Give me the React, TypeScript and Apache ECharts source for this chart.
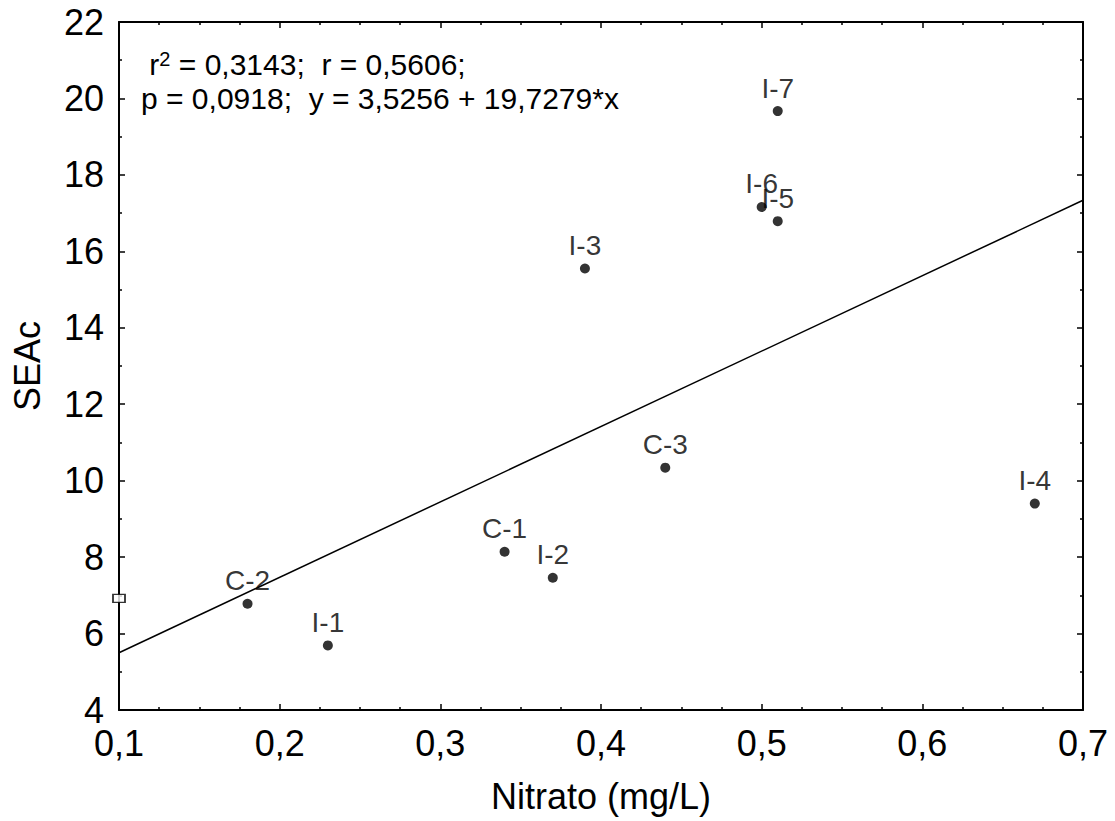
import React, { useEffect, useRef } from "react";
import * as echarts from "echarts";

const pointLabels = ["C-2", "I-1", "C-1", "I-2", "I-3", "C-3", "I-6", "I-5", "I-7", "I-4"];
const nitrato = [0.18, 0.23, 0.34, 0.37, 0.39, 0.44, 0.5, 0.51, 0.51, 0.67];
const seac = [6.78, 5.69, 8.14, 7.46, 15.55, 10.34, 17.16, 16.79, 19.67, 9.4];

const intercept = 3.5256;
const slope = 19.7279;
const lineX = [0.1, 0.7];

const markerPoint = [0.1, 6.92];

const statLine1 = " r{sup|2} = 0,3143;  r = 0,5606;";
const statLine2 = "p = 0,0918;  y = 3,5256 + 19,7279*x";

const FONT = "'Liberation Sans', Arial, sans-serif";

function fmt(v: number) {
  return v.toFixed(1).replace(".", ",");
}

export default function App() {
  const ref = useRef<HTMLDivElement>(null);
  useEffect(() => {
    if (!ref.current) return;
    const chart = echarts.init(ref.current, null, { renderer: "svg" });
    const axisCommon = {
      axisLine: { show: true, onZero: false, lineStyle: { color: "#000", width: 2 } },
      axisTick: { show: true, inside: true, length: 6, lineStyle: { color: "#000", width: 1.5 } },
      minorTick: { show: true, length: 3, lineStyle: { color: "#000", width: 1.5 } },
      splitLine: { show: false },
    };
    chart.setOption({
      animation: false,
      backgroundColor: "#fff",
      textStyle: { fontFamily: FONT },
      grid: { left: 119, right: 32, top: 22, bottom: 111 },
      xAxis: [
        {
          type: "value",
          min: 0.1,
          max: 0.7,
          interval: 0.1,
          ...axisCommon,
          minorTick: { ...axisCommon.minorTick, splitNumber: 4 },
          axisLabel: { color: "#000", fontSize: 36, fontFamily: FONT, margin: 15, formatter: (v: number) => fmt(v) },
          name: "Nitrato (mg/L)",
          nameLocation: "middle",
          nameGap: 68,
          nameTextStyle: { color: "#000", fontSize: 36, fontFamily: FONT },
        },
        {
          type: "value",
          position: "top",
          min: 0.1,
          max: 0.7,
          interval: 0.1,
          ...axisCommon,
          minorTick: { ...axisCommon.minorTick, splitNumber: 4 },
          axisLabel: { show: false },
        },
      ],
      yAxis: [
        {
          type: "value",
          min: 4,
          max: 22,
          interval: 2,
          ...axisCommon,
          minorTick: { ...axisCommon.minorTick, splitNumber: 2 },
          axisLabel: { color: "#000", fontSize: 36, fontFamily: FONT, margin: 15 },
          name: "SEAc",
          nameLocation: "middle",
          nameGap: 74,
          nameTextStyle: { color: "#000", fontSize: 36, fontFamily: FONT },
        },
        {
          type: "value",
          position: "right",
          min: 4,
          max: 22,
          interval: 2,
          ...axisCommon,
          minorTick: { ...axisCommon.minorTick, splitNumber: 2 },
          axisLabel: { show: false },
        },
      ],
      series: [
        {
          type: "line",
          data: lineX.map((x) => [x, intercept + slope * x]),
          showSymbol: false,
          symbol: "none",
          lineStyle: { color: "#000", width: 1.5 },
          silent: true,
          z: 2,
        },
        {
          type: "scatter",
          data: nitrato.map((x, i) => ({ value: [x, seac[i]], name: pointLabels[i] })),
          symbol: "circle",
          symbolSize: 10,
          itemStyle: { color: "#000" },
          label: {
            show: true,
            position: "top",
            distance: 4,
            formatter: "{b}",
            color: "#000",
            fontSize: 28,
            fontFamily: FONT,
          },
          labelLayout: { hideOverlap: false },
          z: 3,
        },
        {
          type: "scatter",
          data: [markerPoint],
          symbol: "rect",
          symbolSize: [12, 8],
          clip: false,
          itemStyle: { color: "#fff", borderColor: "#000", borderWidth: 1.5 },
          z: 4,
        },
      ],
      graphic: [
        {
          type: "text",
          left: 141,
          top: 49,
          style: {
            text: statLine1,
            fill: "#000",
            fontSize: 30,
            fontFamily: FONT,
            rich: {
              sup: { fontSize: 20, fontFamily: FONT, fill: "#000", verticalAlign: "top" },
            },
          },
        },
        {
          type: "text",
          left: 141,
          top: 83,
          style: {
            text: statLine2,
            fill: "#000",
            fontSize: 30,
            fontFamily: FONT,
          },
        },
      ],
    });
    return () => chart.dispose();
  }, []);
  return (
    <div
      ref={ref}
      style={{ position: "fixed", left: 0, top: 0, width: 1115, height: 821, background: "#fff" }}
    />
  );
}
